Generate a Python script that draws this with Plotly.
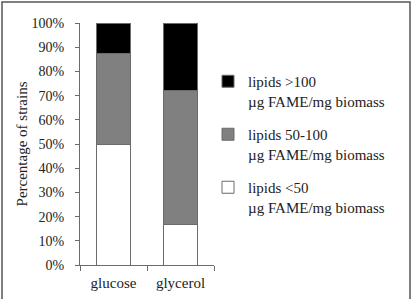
import plotly.graph_objects as go

categories = ["glucose", "glycerol"]
low = [50.0, 16.7]
mid = [37.5, 55.5]
high = [12.5, 27.8]
series_names = [
    "lipids <50<br>µg FAME/mg biomass",
    "lipids 50-100<br>µg FAME/mg biomass",
    "lipids >100<br>µg FAME/mg biomass",
]
y_ticks = list(range(0, 101, 10))
y_tick_labels = [f"{v}%" for v in y_ticks]

FONT = "Liberation Serif"
edge = "#6b6b6b"

fig = go.Figure()
for vals, name, col, grp, rank in [(low, series_names[0], "#ffffff", "a", 3),
                                   (mid, series_names[1], "#808080", "b", 2),
                                   (high, series_names[2], "#000000", "c", 1)]:
    fig.add_trace(go.Bar(x=categories, y=vals, name=name, legendgroup=grp,
                         legendrank=rank,
                         marker=dict(color=col, line=dict(color=edge, width=1)),
                         width=0.5))

L, R, T, B = 80, 201, 23, 34
pw = 415 - L - R
ph = 299 - T - B

fig.update_layout(
    width=415, height=299,
    margin=dict(l=L, r=R, t=T, b=B),
    barmode="stack",
    paper_bgcolor="white", plot_bgcolor="white",
    font=dict(family=FONT, size=15, color="#222"),
    showlegend=True,
    legend=dict(x=(208 - L) / pw, y=(265 - 65) / ph, xanchor="left", yanchor="top",
                traceorder="grouped", tracegroupgap=11, valign="top",
                font=dict(family=FONT, size=15, color="#222"),
                itemwidth=30, bgcolor="rgba(0,0,0,0)"),
    xaxis=dict(showline=True, linecolor=edge, linewidth=1, ticks="outside",
               tickson="boundaries", ticklen=5, tickcolor=edge,
               showgrid=False, range=[-0.5, 1.5], ticklabelstandoff=4,
               automargin=False, tickfont=dict(family=FONT, size=15)),
    yaxis=dict(showline=True, linecolor=edge, linewidth=1, ticks="outside",
               ticklen=4, tickcolor=edge, showgrid=False, zeroline=False,
               range=[0, 100], tickvals=y_ticks, ticktext=y_tick_labels,
               ticklabelstandoff=8, tickfont=dict(family=FONT, size=14),
               automargin=False,
               title=dict(text="Percentage of strains", standoff=0,
                          font=dict(family=FONT, size=15))),
    shapes=[dict(type="rect", xref="paper", yref="paper",
                 x0=(2 - L) / pw, x1=(410 - L) / pw,
                 y0=(265 - 310) / ph, y1=(265 - 2) / ph,
                 line=dict(color="#555", width=1.5), layer="below")],
)

fig.write_html("out.html")
